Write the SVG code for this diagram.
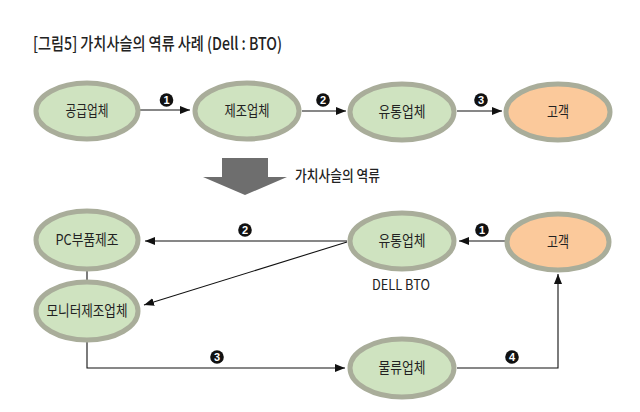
<svg xmlns="http://www.w3.org/2000/svg" width="640" height="412" viewBox="0 0 640 412">
<defs>
<style>
.n ellipse{stroke:#a9ad9a;stroke-width:5}
.g{fill:#cfe3c0}
.o{fill:#fbc99b}
text{font-family:"Noto Sans CJK KR","Noto Sans",sans-serif;fill:#222}
.lbl{font-size:15px;text-anchor:middle}
.c line,.c path,.c polyline{stroke:#111;stroke-width:1.1;fill:none}
.num circle{fill:#111}
.num text{fill:#fff;font-family:"Liberation Sans",Arial,sans-serif;font-weight:bold;font-size:11px;text-anchor:middle}
</style>
<marker id="ah" markerWidth="10" markerHeight="8" refX="10" refY="4" orient="auto" markerUnits="userSpaceOnUse">
<path d="M0,0 L10,4 L0,8 Z" fill="#111"/>
</marker>
</defs>
<rect width="640" height="412" fill="#fff"/>
<text x="33" y="50" font-size="17.5" font-weight="500" fill="#222" textLength="249" lengthAdjust="spacingAndGlyphs">[그림5] 가치사슬의 역류 사례 (Dell : BTO)</text>

<g class="c">
<line x1="140" y1="110" x2="190" y2="110" marker-end="url(#ah)"/>
<line x1="302" y1="111" x2="346" y2="111" marker-end="url(#ah)"/>
<line x1="457" y1="111" x2="502" y2="111" marker-end="url(#ah)"/>
<line x1="347" y1="241" x2="145" y2="241" marker-end="url(#ah)"/>
<line x1="347" y1="242" x2="144" y2="305" marker-end="url(#ah)"/>
<line x1="505" y1="241" x2="459" y2="241" marker-end="url(#ah)"/>
<line x1="87" y1="271" x2="87" y2="280"/>
<polyline points="87,342 87,368 345,368" marker-end="url(#ah)"/>
<polyline points="457,368 558,368 558,274" marker-end="url(#ah)"/>
</g>

<g class="num">
<g><circle cx="166.5" cy="100" r="6.8"/><text x="166.5" y="104">1</text></g>
<g><circle cx="323" cy="100" r="6.8"/><text x="323" y="104">2</text></g>
<g><circle cx="481" cy="100" r="6.8"/><text x="481" y="104">3</text></g>
<g><circle cx="245" cy="230" r="6.8"/><text x="245" y="234">2</text></g>
<g><circle cx="482" cy="230" r="6.8"/><text x="482" y="234">1</text></g>
<g><circle cx="217" cy="357" r="6.8"/><text x="217" y="361">3</text></g>
<g><circle cx="512" cy="357" r="6.8"/><text x="512" y="361">4</text></g>
</g>

<g id="reverse-arrow">
<path d="M222,158 H268 V177 H287 L245,195 L203,177 H222 Z" fill="#6e6e6e"/>
<text x="295" y="181" font-size="14.5" font-weight="500" fill="#222" textLength="85" lengthAdjust="spacingAndGlyphs">가치사슬의 역류</text>
</g>

<g id="n-supplier" class="n"><ellipse class="g" cx="87" cy="111" rx="51" ry="28"/><text class="lbl" x="87" y="116" textLength="43" lengthAdjust="spacingAndGlyphs">공급업체</text></g>
<g id="n-maker" class="n"><ellipse class="g" cx="247" cy="111" rx="52" ry="28"/><text class="lbl" x="247" y="116" textLength="45" lengthAdjust="spacingAndGlyphs">제조업체</text></g>
<g id="n-dist" class="n"><ellipse class="g" cx="402" cy="112" rx="52" ry="28"/><text class="lbl" x="402" y="117" textLength="47" lengthAdjust="spacingAndGlyphs">유통업체</text></g>
<g id="n-cust" class="n"><ellipse class="o" cx="558" cy="112" rx="52" ry="28"/><text class="lbl" x="558" y="117" textLength="22" lengthAdjust="spacingAndGlyphs">고객</text></g>

<g id="n-pc" class="n"><ellipse class="g" cx="87" cy="240" rx="51" ry="29"/><text class="lbl" x="87" y="245" textLength="63" lengthAdjust="spacingAndGlyphs">PC부품제조</text></g>
<g id="n-monitor" class="n"><ellipse class="g" cx="87" cy="311" rx="51" ry="29"/><text class="lbl" x="87" y="316" textLength="81" lengthAdjust="spacingAndGlyphs">모니터제조업체</text></g>
<g id="n-dell" class="n"><ellipse class="g" cx="402" cy="241" rx="52" ry="28"/><text class="lbl" x="402" y="246" textLength="47" lengthAdjust="spacingAndGlyphs">유통업체</text></g>
<g id="n-cust2" class="n"><ellipse class="o" cx="558" cy="242" rx="51" ry="28"/><text class="lbl" x="558" y="247" textLength="22" lengthAdjust="spacingAndGlyphs">고객</text></g>
<g id="n-logistics" class="n"><ellipse class="g" cx="402" cy="368" rx="52" ry="29"/><text class="lbl" x="402" y="373" textLength="47" lengthAdjust="spacingAndGlyphs">물류업체</text></g>
<text x="401" y="290" font-size="14" text-anchor="middle" font-family="'Liberation Sans',Arial,sans-serif" fill="#222" textLength="58" lengthAdjust="spacingAndGlyphs">DELL BTO</text>
</svg>
